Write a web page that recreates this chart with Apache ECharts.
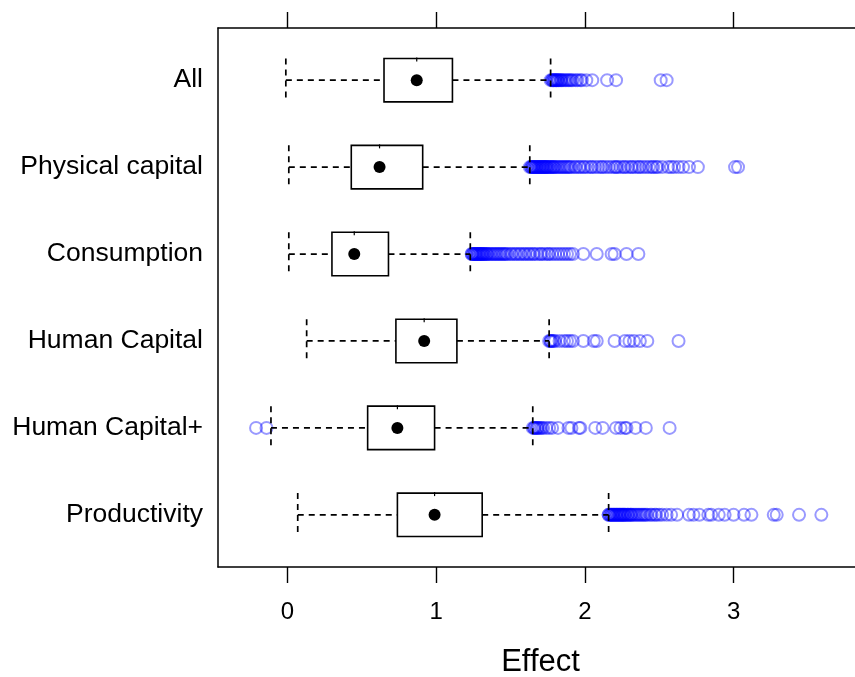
<!DOCTYPE html>
<html>
<head>
<meta charset="utf-8">
<script src="https://cdn.jsdelivr.net/npm/echarts@6/dist/echarts.min.js"></script>
<style>
  html, body { margin: 0; padding: 0; background: #fff; }
  #chart { width: 855px; height: 677px; }
</style>
</head>
<body>
<div id="chart"></div>
<script>
// Categories, top to bottom
const categories = ['All', 'Physical capital', 'Consumption', 'Human Capital', 'Human Capital+', 'Productivity'];
const xTicks = [0, 1, 2, 3];

// Box statistics (Effect)
const lowerWhisker = [-0.01, 0.01, 0.01, 0.13, -0.11, 0.07];
const q1Values     = [0.65, 0.43, 0.30, 0.73, 0.54, 0.74];
const medianValues = [0.87, 0.62, 0.45, 0.92, 0.74, 0.99];
const q3Values     = [1.11, 0.91, 0.68, 1.14, 0.99, 1.31];
const upperWhisker = [1.77, 1.63, 1.23, 1.76, 1.65, 2.16];

// Outliers per category
const outAll = [1.77, 1.78, 1.78, 1.79, 1.79, 1.80, 1.80, 1.81, 1.81, 1.82, 1.82, 1.83, 1.84, 1.84, 1.85, 1.86, 1.87, 1.88, 1.89, 1.90, 1.91, 1.92, 1.94, 1.95, 1.97, 1.98, 2.01, 2.05, 2.15, 2.21, 2.51, 2.55];
const outPhysical = [1.63, 1.64, 1.64, 1.65, 1.65, 1.66, 1.66, 1.67, 1.67, 1.68, 1.68, 1.69, 1.69, 1.70, 1.70, 1.71, 1.71, 1.72, 1.72, 1.73, 1.73, 1.74, 1.74, 1.75, 1.75, 1.76, 1.77, 1.77, 1.78, 1.79, 1.79, 1.80, 1.81, 1.82, 1.83, 1.84, 1.85, 1.86, 1.87, 1.88, 1.89, 1.90, 1.91, 1.93, 1.94, 1.96, 1.97, 1.99, 2.00, 2.02, 2.04, 2.05, 2.07, 2.09, 2.11, 2.12, 2.14, 2.16, 2.18, 2.20, 2.21, 2.22, 2.24, 2.26, 2.27, 2.29, 2.31, 2.32, 2.34, 2.36, 2.37, 2.39, 2.41, 2.43, 2.45, 2.46, 2.48, 2.49, 2.52, 2.56, 2.58, 2.60, 2.63, 2.66, 2.70, 2.76, 3.01, 3.03];
const outConsumption = [1.24, 1.24, 1.25, 1.25, 1.26, 1.26, 1.27, 1.27, 1.28, 1.28, 1.29, 1.29, 1.30, 1.30, 1.31, 1.31, 1.32, 1.32, 1.33, 1.34, 1.34, 1.35, 1.36, 1.37, 1.38, 1.39, 1.40, 1.41, 1.42, 1.43, 1.44, 1.45, 1.46, 1.47, 1.48, 1.50, 1.51, 1.53, 1.54, 1.56, 1.57, 1.59, 1.60, 1.62, 1.63, 1.65, 1.66, 1.68, 1.70, 1.71, 1.73, 1.75, 1.76, 1.78, 1.80, 1.82, 1.84, 1.86, 1.88, 1.90, 1.92, 1.99, 2.08, 2.18, 2.20, 2.28, 2.36];
const outHuman = [1.76, 1.77, 1.77, 1.78, 1.79, 1.80, 1.83, 1.86, 1.88, 1.90, 1.92, 1.99, 2.06, 2.08, 2.20, 2.27, 2.30, 2.33, 2.37, 2.42, 2.63];
const outHumanPlus = [-0.21, -0.14, 1.65, 1.66, 1.66, 1.67, 1.68, 1.68, 1.69, 1.70, 1.71, 1.72, 1.74, 1.76, 1.78, 1.82, 1.89, 1.91, 1.96, 1.97, 2.07, 2.12, 2.21, 2.24, 2.27, 2.28, 2.34, 2.41, 2.57];
const outProductivity = [2.16, 2.16, 2.17, 2.17, 2.18, 2.18, 2.19, 2.19, 2.20, 2.20, 2.21, 2.21, 2.22, 2.22, 2.23, 2.23, 2.24, 2.24, 2.25, 2.25, 2.26, 2.26, 2.27, 2.27, 2.28, 2.29, 2.29, 2.30, 2.31, 2.31, 2.32, 2.33, 2.34, 2.35, 2.36, 2.37, 2.38, 2.39, 2.40, 2.41, 2.42, 2.44, 2.45, 2.47, 2.48, 2.50, 2.52, 2.55, 2.58, 2.62, 2.70, 2.73, 2.77, 2.83, 2.85, 2.90, 2.94, 3.00, 3.07, 3.12, 3.27, 3.29, 3.44, 3.59];
const outliers = [outAll, outPhysical, outConsumption, outHuman, outHumanPlus, outProductivity];

const n = categories.length;
const posOf = i => n - i; // All at top

const boxData = categories.map((c, i) => [posOf(i), lowerWhisker[i], q1Values[i], medianValues[i], q3Values[i], upperWhisker[i]]);
const outlierData = [];
outliers.forEach((arr, i) => arr.forEach(v => outlierData.push([v, posOf(i)])));

const FONT = '"Liberation Sans", Arial, sans-serif';
const dash = [6, 5];
const frameLine = { show: true, onZero: false, lineStyle: { color: '#000', width: 1.5 } };

function renderBox(params, api) {
  const pos = api.value(0);
  const lo = api.coord([api.value(1), pos]);
  const a = api.coord([api.value(2), pos]);
  const m = api.coord([api.value(3), pos]);
  const b = api.coord([api.value(4), pos]);
  const hi = api.coord([api.value(5), pos]);
  const half = api.size([0, 0.5])[1] / 2;
  const cy = m[1];
  const lineStyle = { stroke: '#000', lineWidth: 1.7, lineDash: dash, fill: null };
  const solid = { stroke: '#000', lineWidth: 1.6, fill: null };
  return {
    type: 'group',
    children: [
      { type: 'line', shape: { x1: lo[0], y1: cy, x2: a[0], y2: cy }, style: lineStyle },
      { type: 'line', shape: { x1: b[0], y1: cy, x2: hi[0], y2: cy }, style: lineStyle },
      { type: 'line', shape: { x1: lo[0], y1: cy - half, x2: lo[0], y2: cy + half }, style: lineStyle },
      { type: 'line', shape: { x1: hi[0], y1: cy - half, x2: hi[0], y2: cy + half }, style: lineStyle },
      { type: 'rect', shape: { x: a[0], y: cy - half, width: b[0] - a[0], height: 2 * half }, style: solid },
      { type: 'line', shape: { x1: m[0], y1: cy - half - 1, x2: m[0], y2: cy - half + 3 }, style: { stroke: '#000', lineWidth: 1.2 } },
      { type: 'circle', shape: { cx: m[0], cy: cy, r: 6 }, style: { fill: '#000' } }
    ]
  };
}

const chart = echarts.init(document.getElementById('chart'), null, { renderer: 'canvas' });
chart.setOption({
  animation: false,
  backgroundColor: '#fff',
  textStyle: { fontFamily: FONT },
  grid: {
    left: 218, top: 28, width: 645, height: 539,
    outerBoundsMode: 'none', containLabel: false,
    show: false
  },
  xAxis: [
    {
      type: 'value', position: 'bottom', min: -0.466, max: 3.87,
      name: 'Effect', nameLocation: 'middle', nameGap: 80,
      nameTextStyle: { fontSize: 31, color: '#000', fontFamily: FONT },
      axisLine: frameLine,
      axisTick: { show: true, inside: false, length: 16, lineStyle: { color: '#000', width: 1.4 }, customValues: xTicks },
      axisLabel: { show: true, customValues: xTicks, fontSize: 24, color: '#000', margin: 33, fontFamily: FONT },
      splitLine: { show: false }
    },
    {
      type: 'value', position: 'top', min: -0.466, max: 3.87,
      axisLine: frameLine,
      axisTick: { show: true, inside: false, length: 16, lineStyle: { color: '#000', width: 1.4 }, customValues: xTicks },
      axisLabel: { show: false },
      splitLine: { show: false }
    }
  ],
  yAxis: {
    type: 'value', position: 'left', min: 0.4, max: n + 0.6,
    axisLine: frameLine,
    axisTick: { show: false },
    splitLine: { show: false },
    axisLabel: {
      customValues: categories.map((c, i) => posOf(i)),
      formatter: v => categories[n - Math.round(v)],
      fontSize: 26.5, color: '#000', margin: 15, fontFamily: FONT
    }
  },
  series: [
    {
      type: 'scatter',
      data: outlierData,
      symbol: 'circle',
      symbolSize: 12,
      itemStyle: { color: 'rgba(0,0,0,0)', borderColor: 'rgba(0,0,255,0.5)', borderWidth: 2 },
      emphasis: { disabled: true },
      z: 2
    },
    {
      type: 'custom',
      renderItem: renderBox,
      data: boxData,
      encode: { x: [1, 2, 3, 4, 5], y: 0 },
      z: 3
    }
  ]
});
</script>
</body>
</html>
